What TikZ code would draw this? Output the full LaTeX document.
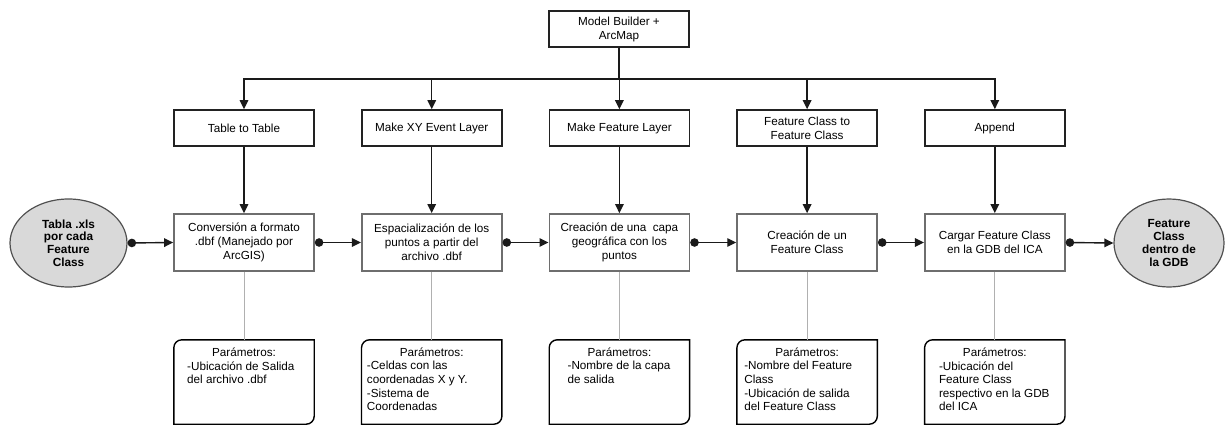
\documentclass[tikz,border=0pt]{standalone}
\usepackage{fontspec}
\setmainfont{Liberation Sans}
\usetikzlibrary{arrows.meta,shapes.geometric}
\definecolor{linec}{HTML}{1A1A1A}
\definecolor{boxc}{HTML}{222222}
\definecolor{procc}{HTML}{6E6E6E}
\definecolor{thinc}{HTML}{B0B0B0}
\definecolor{ellfill}{HTML}{D9D9D9}
\definecolor{ellc}{HTML}{505050}
\begin{document}
\begin{tikzpicture}[x=1pt,y=-1pt,
  line/.style={draw=linec, line width=1.4pt},
  arr/.style={line, -{Triangle[length=9pt,width=8.5pt]}},
  darr/.style={line, {Circle[length=8.5pt]}-{Triangle[length=9pt,width=8.5pt]}},
  thinline/.style={draw=thinc, line width=0.9pt},
  txt/.style={font=\fontsize{11.7}{14}\selectfont},
  toolbox/.style={txt, draw=boxc, line width=1.6pt, minimum width=140pt, minimum height=36pt, inner sep=0pt, align=center},
  procbox/.style={txt, draw=procc, line width=1.7pt, minimum width=140pt, minimum height=57pt, inner sep=0pt, align=center},
  parbox/.style={minimum width=140pt, minimum height=84pt, inner sep=0pt},
  parline/.style={draw=black, line width=1.4pt},
  parhead/.style={font=\fontsize{11.7}{13.6}\selectfont, inner sep=0pt, anchor=base},
  parbody/.style={font=\fontsize{11.7}{13.6}\selectfont, inner sep=0pt, anchor=north west, align=left},
  ell/.style={ellipse, draw=ellc, fill=ellfill, line width=1.2pt, inner sep=0pt, align=center, font=\bfseries\fontsize{11.8}{12.7}\selectfont}
]
\useasboundingbox (0,0) rectangle (1225,425);

% top box
\node[toolbox] (top) at (619,29) {Model Builder +\\ArcMap};
\coordinate (bus) at (619,79);

% tool boxes
\node[toolbox] (t1) at (244,128) {Table to Table};
\node[toolbox] (t2) at (431.7,128) {Make XY Event Layer};
\node[toolbox] (t3) at (619.4,128) {Make Feature Layer};
\node[toolbox] (t4) at (807.1,128) {Feature Class to\\Feature Class};
\node[toolbox] (t5) at (994.8,128) {Append};

% process boxes
\node[procbox] (p1) at (244,242.5) {Conversión a formato\\.dbf (Manejado por\\ArcGIS)};
\node[procbox] (p2) at (431.7,242.5) {Espacialización de los\\puntos a partir del\\archivo .dbf};
\node[procbox] (p3) at (619.4,242.5) {Creación de una\ \ capa\\geográfica con los\\puntos};
\node[procbox] (p4) at (807.1,242.5) {Creación de un\\Feature Class};
\node[procbox] (p5) at (994.8,242.5) {Cargar Feature Class\\en la GDB del ICA};

% ellipses
\node[ell, minimum width=117pt, minimum height=88pt] (in) at (68.5,243) {Tabla .xls\\por cada\\Feature\\Class};
\node[ell, minimum width=110pt, minimum height=88pt] (out) at (1169,243) {Feature\\Class\\dentro de\\la GDB};

% parameter boxes
\node[parbox] (q1) at (244,382) {};
\node[parbox] (q2) at (431.7,382) {};
\node[parbox] (q3) at (619.4,382) {};
\node[parbox] (q4) at (807.1,382) {};
\node[parbox] (q5) at (994.8,382) {};
\foreach \i in {1,...,5} {
  \draw[parline] (q\i.south west) -- ([yshift=-8pt]q\i.north west) arc[start angle=180,end angle=90,radius=8pt] -- (q\i.north east) -- ([yshift=8pt]q\i.south east) arc[start angle=0,end angle=-90,radius=8pt] -- cycle;
  \node[parhead] (h\i) at ([yshift=-17pt]q\i.north) {Parámetros:};
}
\node[parbody] (b1) at ([xshift=-57pt,yshift=-21.5pt]q1.north) {-Ubicación de Salida\\del archivo .dbf};
\node[parbody] (b2) at ([xshift=-65pt,yshift=-21.5pt]q2.north) {-Celdas con las\\coordenadas X y Y.\\-Sistema de\\Coordenadas};
\node[parbody] (b3) at ([xshift=-52pt,yshift=-21.5pt]q3.north) {-Nombre de la capa\\de salida};
\node[parbody] (b4) at ([xshift=-63pt,yshift=-21.5pt]q4.north) {-Nombre del Feature\\Class\\-Ubicación de salida\\del Feature Class};
\node[parbody] (b5) at ([xshift=-56pt,yshift=-21.5pt]q5.north) {-Ubicación del\\Feature Class\\respectivo en la GDB\\del ICA};

% bus connectors
\foreach \i in {1,...,5} {
  \draw[arr] (top.south) -- (bus) -| (t\i.north);
  \draw[arr] (t\i.south) -- (p\i.north);
  \draw[thinline] (p\i.south) -- (q\i.north);
}

% horizontal flow
\draw[darr] (in.east) -- (p1.west);
\draw[darr] (p1.east) -- (p2.west);
\draw[darr] (p2.east) -- (p3.west);
\draw[darr] (p3.east) -- (p4.west);
\draw[darr] (p4.east) -- (p5.west);
\draw[darr] (p5.east) -- (out.west);
\end{tikzpicture}
\end{document}
